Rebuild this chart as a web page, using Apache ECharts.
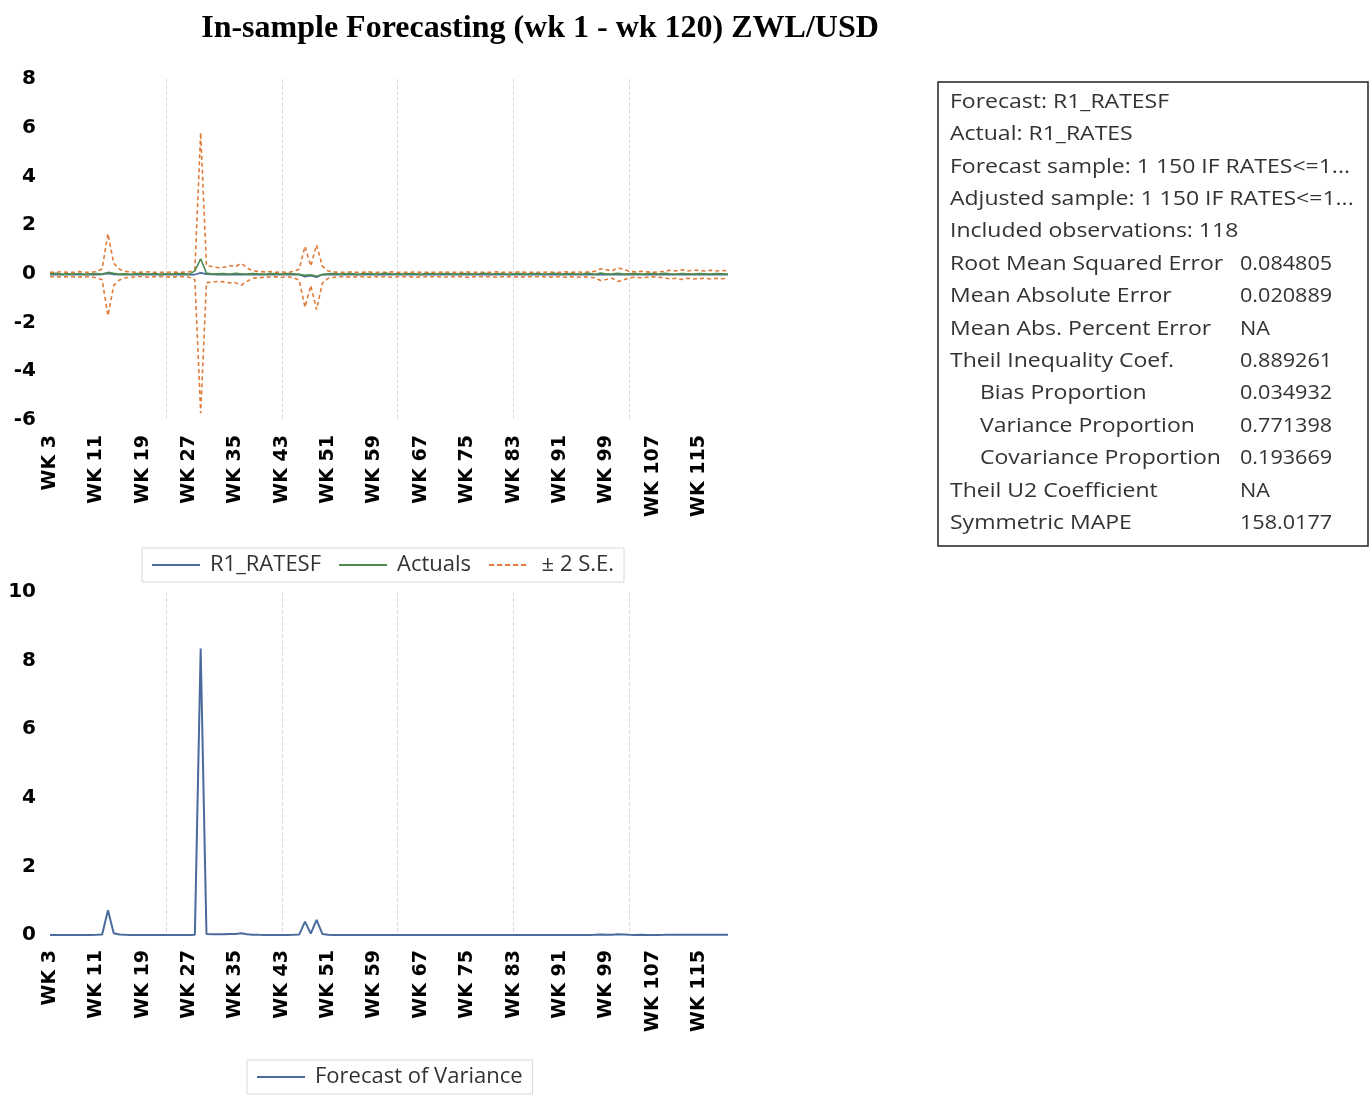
<!DOCTYPE html>
<html>
<head>
<meta charset="utf-8">
<title>In-sample Forecasting ZWL/USD</title>
<script src="https://cdn.jsdelivr.net/npm/echarts@6/dist/echarts.min.js"></script>
<style>
  html, body { margin: 0; padding: 0; background: #fff; }
  #main { width: 1371px; height: 1098px; }
</style>
</head>
<body>
<div id="main"></div>
<script>
// weeks WK 3 .. WK 120 (118 included observations)
var weeks = ['WK 3','WK 4','WK 5','WK 6','WK 7','WK 8','WK 9','WK 10','WK 11','WK 12',
  'WK 13','WK 14','WK 15','WK 16','WK 17','WK 18','WK 19','WK 20','WK 21','WK 22',
  'WK 23','WK 24','WK 25','WK 26','WK 27','WK 28','WK 29','WK 30','WK 31','WK 32',
  'WK 33','WK 34','WK 35','WK 36','WK 37','WK 38','WK 39','WK 40','WK 41','WK 42',
  'WK 43','WK 44','WK 45','WK 46','WK 47','WK 48','WK 49','WK 50','WK 51','WK 52',
  'WK 53','WK 54','WK 55','WK 56','WK 57','WK 58','WK 59','WK 60','WK 61','WK 62',
  'WK 63','WK 64','WK 65','WK 66','WK 67','WK 68','WK 69','WK 70','WK 71','WK 72',
  'WK 73','WK 74','WK 75','WK 76','WK 77','WK 78','WK 79','WK 80','WK 81','WK 82',
  'WK 83','WK 84','WK 85','WK 86','WK 87','WK 88','WK 89','WK 90','WK 91','WK 92',
  'WK 93','WK 94','WK 95','WK 96','WK 97','WK 98','WK 99','WK 100','WK 101','WK 102',
  'WK 103','WK 104','WK 105','WK 106','WK 107','WK 108','WK 109','WK 110','WK 111','WK 112',
  'WK 113','WK 114','WK 115','WK 116','WK 117','WK 118','WK 119','WK 120'];

// R1_RATESF (forecast)
var forecast = [-0.03,-0.03,-0.02,-0.03,-0.03,-0.02,-0.03,-0.03,-0.03,-0.02,
  0.02,-0.02,-0.03,-0.03,-0.03,-0.03,-0.02,-0.03,-0.03,-0.03,
  -0.03,-0.03,-0.03,-0.02,-0.03,-0.03,0.04,-0.01,-0.02,-0.03,
  -0.03,-0.02,-0.03,-0.02,-0.03,-0.03,-0.03,-0.03,-0.02,-0.03,
  -0.03,-0.03,-0.03,-0.03,-0.12,-0.08,-0.14,-0.03,-0.03,-0.03,
  -0.03,-0.03,-0.03,-0.03,-0.03,-0.03,-0.03,-0.03,-0.03,-0.03,
  -0.03,-0.03,-0.03,-0.03,-0.03,-0.03,-0.03,-0.03,-0.03,-0.03,
  -0.03,-0.03,-0.03,-0.03,-0.03,-0.03,-0.03,-0.03,-0.03,-0.03,
  -0.03,-0.03,-0.03,-0.03,-0.03,-0.03,-0.03,-0.03,-0.03,-0.03,
  -0.03,-0.03,-0.03,-0.03,-0.03,-0.03,-0.03,-0.03,-0.03,-0.03,
  -0.03,-0.03,-0.03,-0.03,-0.03,-0.03,-0.03,-0.03,-0.03,-0.03,
  -0.03,-0.03,-0.03,-0.03,-0.03,-0.03,-0.03,-0.03];

// R1_RATES (actuals)
var actuals = [-0.01,0.02,-0.02,0.00,-0.01,0.01,-0.02,0.00,0.01,-0.01,
  0.06,0.02,-0.01,0.00,-0.02,0.01,0.00,-0.01,0.01,-0.02,
  0.00,-0.01,0.01,0.00,-0.02,0.12,0.62,0.03,-0.01,0.00,
  0.01,-0.02,0.02,0.00,-0.01,0.01,0.00,-0.02,0.01,0.00,
  -0.01,0.01,0.00,-0.02,-0.06,-0.04,-0.10,-0.03,0.00,0.01,
  -0.01,0.00,0.01,-0.02,0.00,0.01,-0.01,0.00,0.02,-0.01,
  0.00,-0.01,0.01,0.00,-0.02,0.01,0.00,-0.01,0.01,0.00,
  -0.01,0.00,0.01,-0.01,0.00,0.02,-0.01,0.00,0.01,-0.02,
  0.00,0.01,-0.01,0.00,0.01,-0.01,0.00,0.02,-0.01,0.00,
  0.01,-0.01,0.00,0.02,-0.02,0.03,-0.01,0.00,0.02,-0.01,
  0.00,0.01,-0.01,0.00,0.01,-0.01,0.02,0.00,-0.01,0.01,
  0.00,-0.01,0.01,0.00,-0.01,0.01,0.00,-0.01];

// +2 S.E. band
var upperSE = [0.06,0.06,0.09,0.06,0.06,0.09,0.06,0.06,0.10,0.20,
  1.65,0.43,0.19,0.10,0.08,0.06,0.07,0.08,0.06,0.06,
  0.06,0.08,0.06,0.07,0.08,0.17,5.80,0.34,0.30,0.25,
  0.27,0.33,0.30,0.43,0.25,0.12,0.10,0.08,0.09,0.06,
  0.08,0.06,0.10,0.19,1.13,0.32,1.19,0.32,0.12,0.08,
  0.06,0.06,0.08,0.06,0.06,0.08,0.06,0.06,0.06,0.08,
  0.06,0.06,0.06,0.08,0.06,0.06,0.06,0.06,0.08,0.06,
  0.06,0.06,0.08,0.06,0.06,0.06,0.06,0.08,0.06,0.06,
  0.06,0.08,0.06,0.06,0.06,0.06,0.08,0.06,0.06,0.08,
  0.06,0.08,0.06,0.08,0.10,0.21,0.17,0.12,0.25,0.19,
  0.10,0.08,0.10,0.08,0.06,0.08,0.10,0.15,0.12,0.17,
  0.12,0.15,0.14,0.12,0.15,0.12,0.14,0.12];

// -2 S.E. band
var lowerSE = [-0.12,-0.12,-0.13,-0.12,-0.12,-0.13,-0.12,-0.12,-0.16,-0.24,
  -1.72,-0.47,-0.25,-0.16,-0.14,-0.12,-0.11,-0.14,-0.12,-0.12,
  -0.12,-0.14,-0.12,-0.11,-0.14,-0.23,-5.72,-0.36,-0.34,-0.31,
  -0.33,-0.37,-0.36,-0.47,-0.31,-0.18,-0.16,-0.14,-0.13,-0.12,
  -0.14,-0.12,-0.16,-0.25,-1.37,-0.48,-1.47,-0.38,-0.18,-0.14,
  -0.12,-0.12,-0.14,-0.12,-0.12,-0.14,-0.12,-0.12,-0.12,-0.14,
  -0.12,-0.12,-0.12,-0.14,-0.12,-0.12,-0.12,-0.12,-0.14,-0.12,
  -0.12,-0.12,-0.14,-0.12,-0.12,-0.12,-0.12,-0.14,-0.12,-0.12,
  -0.12,-0.14,-0.12,-0.12,-0.12,-0.12,-0.14,-0.12,-0.12,-0.14,
  -0.12,-0.14,-0.12,-0.14,-0.16,-0.27,-0.23,-0.18,-0.31,-0.25,
  -0.16,-0.14,-0.16,-0.14,-0.12,-0.14,-0.16,-0.21,-0.18,-0.23,
  -0.18,-0.21,-0.20,-0.18,-0.21,-0.18,-0.20,-0.18];

// Forecast of Variance
var variance = [0.002,0.002,0.003,0.002,0.002,0.003,0.002,0.002,0.004,0.012,
  0.72,0.05,0.012,0.004,0.003,0.002,0.002,0.003,0.002,0.002,
  0.002,0.003,0.002,0.002,0.003,0.010,8.35,0.030,0.025,0.020,
  0.022,0.030,0.028,0.050,0.020,0.006,0.004,0.003,0.003,0.002,
  0.003,0.002,0.004,0.012,0.39,0.040,0.44,0.030,0.006,0.003,
  0.002,0.002,0.003,0.002,0.002,0.003,0.002,0.002,0.002,0.003,
  0.002,0.002,0.002,0.003,0.002,0.002,0.002,0.002,0.003,0.002,
  0.002,0.002,0.003,0.002,0.002,0.002,0.002,0.003,0.002,0.002,
  0.002,0.003,0.002,0.002,0.002,0.002,0.003,0.002,0.002,0.003,
  0.002,0.003,0.002,0.003,0.004,0.015,0.010,0.006,0.020,0.012,
  0.004,0.003,0.004,0.003,0.002,0.003,0.004,0.008,0.006,0.010,
  0.006,0.008,0.007,0.006,0.008,0.006,0.007,0.006];

// forecast evaluation table
var statLabels = ['Forecast: R1_RATESF', 'Actual: R1_RATES', 'Forecast sample: 1 150 IF RATES<=1...',
  'Adjusted sample: 1 150 IF RATES<=1...', 'Included observations: 118', 'Root Mean Squared Error',
  'Mean Absolute Error', 'Mean Abs. Percent Error', 'Theil Inequality Coef.', 'Bias Proportion',
  'Variance Proportion', 'Covariance Proportion', 'Theil U2 Coefficient', 'Symmetric MAPE'];
var statValues = ['', '', '', '', '', '0.084805', '0.020889', 'NA', '0.889261', '0.034932',
  '0.771398', '0.193669', 'NA', '158.0177'];
var statIndent = [0, 0, 0, 0, 0, 0, 0, 0, 0, 1, 1, 1, 0, 0];

var BLUE = '#4a6b9c';
var GREEN = '#4f8a4f';
var ORANGE = '#e07b39';
var axisFont = 'DejaVu Sans';
var textFont = 'Open Sans';

// 图例图标：实线 / 虚线
var ICON_SOLID = 'rect';
var ICON_DASH = 'path://M0,0h5v2h-5z M8,0h5v2h-5z M16,0h5v2h-5z M24,0h5v2h-5z M32,0h5v2h-5z';

var chart = echarts.init(document.getElementById('main'));

// 统计表格（原图文字横向略宽，用 scaleX 拉伸）
var boxItems = [{
  type: 'rect',
  shape: { x: 938, y: 82, width: 430, height: 464 },
  style: { fill: '#fff', stroke: '#222', lineWidth: 1.5 }
}];
for (var i = 0; i < statLabels.length; i++) {
  var rowY = 102 + i * 32.4;
  boxItems.push({
    type: 'text',
    x: statIndent[i] ? 980 : 950,
    y: rowY,
    scaleX: 1.15,
    style: {
      x: 0, y: 0, text: statLabels[i],
      fontFamily: textFont, fontSize: 20, fill: '#333', verticalAlign: 'middle'
    }
  });
  if (statValues[i]) {
    boxItems.push({
      type: 'text',
      x: 1240,
      y: rowY,
      scaleX: 1.08,
      style: {
        x: 0, y: 0, text: statValues[i],
        fontFamily: textFont, fontSize: 20, fill: '#333', verticalAlign: 'middle'
      }
    });
  }
}

function xAxisCfg(gridIndex) {
  return {
    type: 'category',
    gridIndex: gridIndex,
    boundaryGap: false,
    data: weeks,
    axisLine: { show: false },
    axisTick: { show: false },
    axisLabel: {
      interval: 7,
      rotate: 90,
      margin: 15,
      fontFamily: axisFont,
      fontWeight: 'bold',
      fontSize: 19,
      color: '#000'
    },
    splitLine: {
      show: true,
      interval: function (index) { return index > 0 && index % 20 === 0; },
      lineStyle: { color: '#dcdcdc', width: 1, type: 'dashed' }
    }
  };
}

function yAxisCfg(gridIndex, min, max) {
  return {
    type: 'value',
    gridIndex: gridIndex,
    min: min,
    max: max,
    interval: 2,
    axisLine: { show: false },
    axisTick: { show: false },
    splitLine: { show: false },
    axisLabel: {
      margin: 14,
      fontFamily: axisFont,
      fontWeight: 'bold',
      fontSize: 20,
      color: '#000'
    }
  };
}

var legendText = { fontFamily: textFont, fontSize: 22, color: '#333', padding: [0, 0, 0, 5] };

var option = {
  backgroundColor: '#fff',
  animation: false,
  title: {
    text: 'In-sample Forecasting (wk 1 - wk 120) ZWL/USD',
    left: 535,
    top: 8,
    textAlign: 'center',
    textStyle: {
      fontFamily: 'Liberation Serif',
      fontWeight: 'bold',
      fontSize: 32,
      color: '#000'
    }
  },
  grid: [
    { left: 50, top: 79, width: 678, height: 341 },
    { left: 50, top: 592, width: 678, height: 343 }
  ],
  legend: [{
    data: [
      { name: 'R1_RATESF', icon: ICON_SOLID },
      { name: 'Actuals', icon: ICON_SOLID },
      { name: '± 2 S.E.', icon: ICON_DASH }
    ],
    left: 142,
    top: 548,
    itemWidth: 48,
    itemHeight: 2,
    itemGap: 18,
    padding: [6, 10, 6, 10],
    borderColor: '#d9d9d9',
    borderWidth: 1,
    textStyle: legendText
  }, {
    data: [{ name: 'Forecast of Variance', icon: ICON_SOLID }],
    left: 247,
    top: 1060,
    itemWidth: 48,
    itemHeight: 2,
    padding: [6, 10, 6, 10],
    borderColor: '#d9d9d9',
    borderWidth: 1,
    textStyle: legendText
  }],
  xAxis: [xAxisCfg(0), xAxisCfg(1)],
  yAxis: [yAxisCfg(0, -6, 8), yAxisCfg(1, 0, 10)],
  series: [{
    name: '± 2 S.E.',
    type: 'line',
    xAxisIndex: 0,
    yAxisIndex: 0,
    data: upperSE,
    symbol: 'none',
    lineStyle: { color: ORANGE, width: 1.6, type: [4, 3] },
    itemStyle: { color: ORANGE }
  }, {
    name: '± 2 S.E.',
    type: 'line',
    xAxisIndex: 0,
    yAxisIndex: 0,
    data: lowerSE,
    symbol: 'none',
    lineStyle: { color: ORANGE, width: 1.6, type: [4, 3] },
    itemStyle: { color: ORANGE }
  }, {
    name: 'R1_RATESF',
    type: 'line',
    xAxisIndex: 0,
    yAxisIndex: 0,
    data: forecast,
    symbol: 'none',
    lineStyle: { color: BLUE, width: 1.6 },
    itemStyle: { color: BLUE }
  }, {
    name: 'Actuals',
    type: 'line',
    xAxisIndex: 0,
    yAxisIndex: 0,
    data: actuals,
    symbol: 'none',
    lineStyle: { color: GREEN, width: 1.6 },
    itemStyle: { color: GREEN }
  }, {
    name: 'Forecast of Variance',
    type: 'line',
    xAxisIndex: 1,
    yAxisIndex: 1,
    data: variance,
    symbol: 'none',
    lineStyle: { color: BLUE, width: 2 },
    itemStyle: { color: BLUE }
  }],
  graphic: boxItems
};

chart.setOption(option);
</script>
</body>
</html>
